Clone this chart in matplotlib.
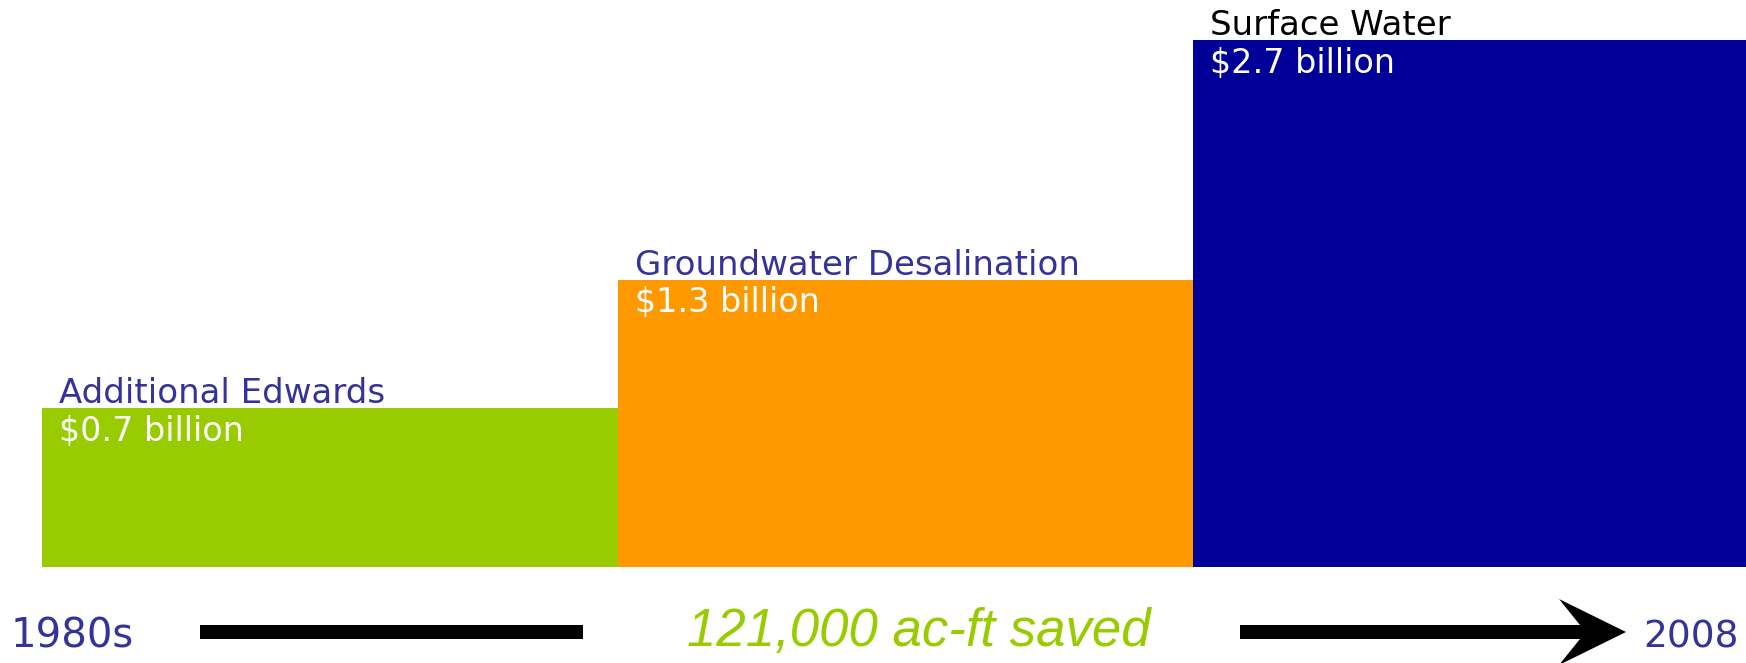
import matplotlib
matplotlib.use('Agg')
import matplotlib.pyplot as plt
from matplotlib.patches import Polygon

# Bar data (heights, arbitrary units; orange = 1.3)
sources = ['Additional Edwards', 'Groundwater Desalination', 'Surface Water']
costs = [0.7, 1.3, 2.7]
heights = [0.72, 1.30, 2.385]
bar_colors = ['#99cc00', '#ff9900', '#000099']
name_colors = ['#333399', '#333399', '#000000']

start_label = '1980s'
end_label = '2008'
saved_label = '121,000 ac-ft saved'

W, H, DPI = 1746, 663, 100
fig = plt.figure(figsize=(W / DPI, H / DPI), dpi=DPI)
ax = fig.add_axes([0, 0, 1, 1])

# Bars
xs = list(range(len(sources)))
ax.bar(xs, heights, width=1.0, align='edge', color=bar_colors, linewidth=0)

# Axis limits chosen so that the bars sit where they do in the picture
px_per_x = 575.5
px_per_y = 221.0
ax.set_xlim(-42 / px_per_x, (W - 42) / px_per_x)
ax.set_ylim(-96 / px_per_y, (H - 96) / px_per_y)
ax.axis('off')

font = 'DejaVu Sans'
for x, h, name, cost, nc in zip(xs, heights, sources, costs, name_colors):
    ax.annotate(name, (x, h), xytext=(12.5, 3.5), textcoords='offset points',
                ha='left', va='baseline', fontsize=24.5, color=nc, family=font)
    ax.annotate('${} billion'.format(cost), (x, h), xytext=(12.5, -23.5),
                textcoords='offset points', ha='left', va='baseline',
                fontsize=24, color='white', family=font)

# Timeline along the bottom, in figure pixels
def fx(px):
    return px / W

def fy(px_from_top):
    return (H - px_from_top) / H

fig.text(fx(11), fy(647), start_label, ha='left', va='baseline',
         fontsize=29, color='#333399', family=font)
fig.text(fx(1739), fy(647), end_label, ha='right', va='baseline',
         fontsize=27, color='#333399', family=font)
fig.text(fx(919), fy(646), saved_label, ha='center', va='baseline',
         fontsize=38, color='#99cc00', style='italic', family='Liberation Sans')

# left plain bar
fig.patches.append(Polygon([(fx(200), fy(625)), (fx(583), fy(625)),
                            (fx(583), fy(639)), (fx(200), fy(639))],
                           closed=True, transform=fig.transFigure,
                           facecolor='black', edgecolor='none'))
# right arrow with swept-back head
arrow_pts = [(1240, 625), (1580, 625), (1559, 599), (1626, 632),
             (1559, 665), (1580, 639), (1240, 639)]
fig.patches.append(Polygon([(fx(a), fy(b)) for a, b in arrow_pts],
                           closed=True, transform=fig.transFigure,
                           facecolor='black', edgecolor='none'))

fig.savefig('out.png', dpi=DPI)
